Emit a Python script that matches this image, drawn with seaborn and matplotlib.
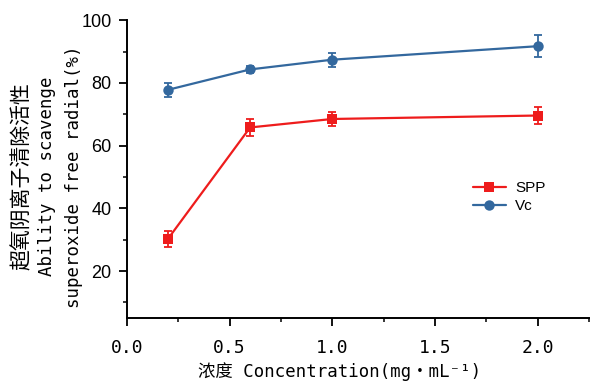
import matplotlib
matplotlib.use("Agg")
import matplotlib.pyplot as plt
import seaborn as sns
import pandas as pd
from matplotlib.ticker import MultipleLocator

conc = [0.2, 0.6, 1.0, 2.0]
spp = [30.3, 65.8, 68.5, 69.6]
spp_err = [2.5, 2.7, 2.1, 2.7]
vc = [77.8, 84.3, 87.4, 91.7]
vc_err = [2.2, 1.2, 2.2, 3.5]
series = ["SPP", "Vc"]
colors = {"SPP": "#ee1c1c", "Vc": "#33689e"}
markers = {"SPP": "s", "Vc": "o"}
xticklabels = ["0.0", "0.5", "1.0", "1.5", "2.0"]

df = pd.DataFrame({
    "conc": conc * 2,
    "val": spp + vc,
    "err": spp_err + vc_err,
    "series": ["SPP"] * 4 + ["Vc"] * 4,
})

sns.set_style("ticks")
plt.rcParams['font.family'] = ['Liberation Sans', 'Noto Sans CJK SC']
plt.rcParams['text.color'] = 'black'
plt.rcParams['xtick.color'] = 'black'
plt.rcParams['ytick.color'] = 'black'
plt.rcParams['xtick.labelcolor'] = 'black'
plt.rcParams['ytick.labelcolor'] = 'black'
mono = ['DejaVu Sans Mono', 'Noto Sans CJK SC']

fig = plt.figure(figsize=(5.96, 3.88), dpi=100)
ax = fig.add_axes([0.213, 0.180, 0.775, 0.768])

sns.lineplot(data=df, x="conc", y="val", hue="series", style="series",
             palette=colors, markers=markers, dashes=False, ax=ax,
             markersize=7.5, linewidth=1.6, markeredgewidth=0)
for s in series:
    d = df[df.series == s]
    ax.errorbar(d.conc, d.val, yerr=d.err, fmt="none", ecolor=colors[s],
                elinewidth=1.3, capsize=3, capthick=1.3)

ax.set_xlim(0, 2.25)
ax.xaxis.set_minor_locator(MultipleLocator(0.25))
ax.yaxis.set_minor_locator(MultipleLocator(10))
ax.set_xticks([0, 0.5, 1.0, 1.5, 2.0])
ax.set_xticklabels(xticklabels, family=mono, fontsize=12.5)
ax.set_yticks([20, 40, 60, 80, 100])
ax.set_ylim(5, 100)
ax.tick_params(axis="both", which="major", direction="out", length=6, width=1.3, labelsize=13,
               color="black", labelcolor="black")
ax.tick_params(axis="x", which="major", pad=9)
ax.tick_params(axis="y", which="major", pad=5)
ax.tick_params(axis="both", which="minor", direction="out", length=3, width=1.1, color="black")
for sp in ["left", "bottom"]:
    ax.spines[sp].set_linewidth(1.4)
    ax.spines[sp].set_color("black")
sns.despine(ax=ax)

ax.set_xlabel("")
ax.set_ylabel("")
fig.text(0.569, 0.041, "浓度 Concentration(mg・mL⁻¹)", family=mono, fontsize=12.5,
         ha="center", va="center", color="black")
fig.text(0.037, 0.545, "超氧阴离子清除活性", rotation=90, fontsize=15, ha="center", va="center",
         family=['Noto Sans CJK SC'], color="black")
fig.text(0.079, 0.545, "Ability to scavenge", rotation=90, fontsize=12.5, ha="center", va="center",
         family=mono, color="black")
fig.text(0.124, 0.545, "superoxide free radial(%)", rotation=90, fontsize=12.5, ha="center", va="center",
         family=mono, color="black")

handles, labels = ax.get_legend_handles_labels()
ax.legend(handles, labels, loc="upper left", bbox_to_anchor=(0.725, 0.495),
          frameon=False, fontsize=11, handlelength=2.2, handletextpad=0.6,
          labelspacing=0.25, borderpad=0.2, labelcolor="black")

fig.savefig("out.png", dpi=100)
